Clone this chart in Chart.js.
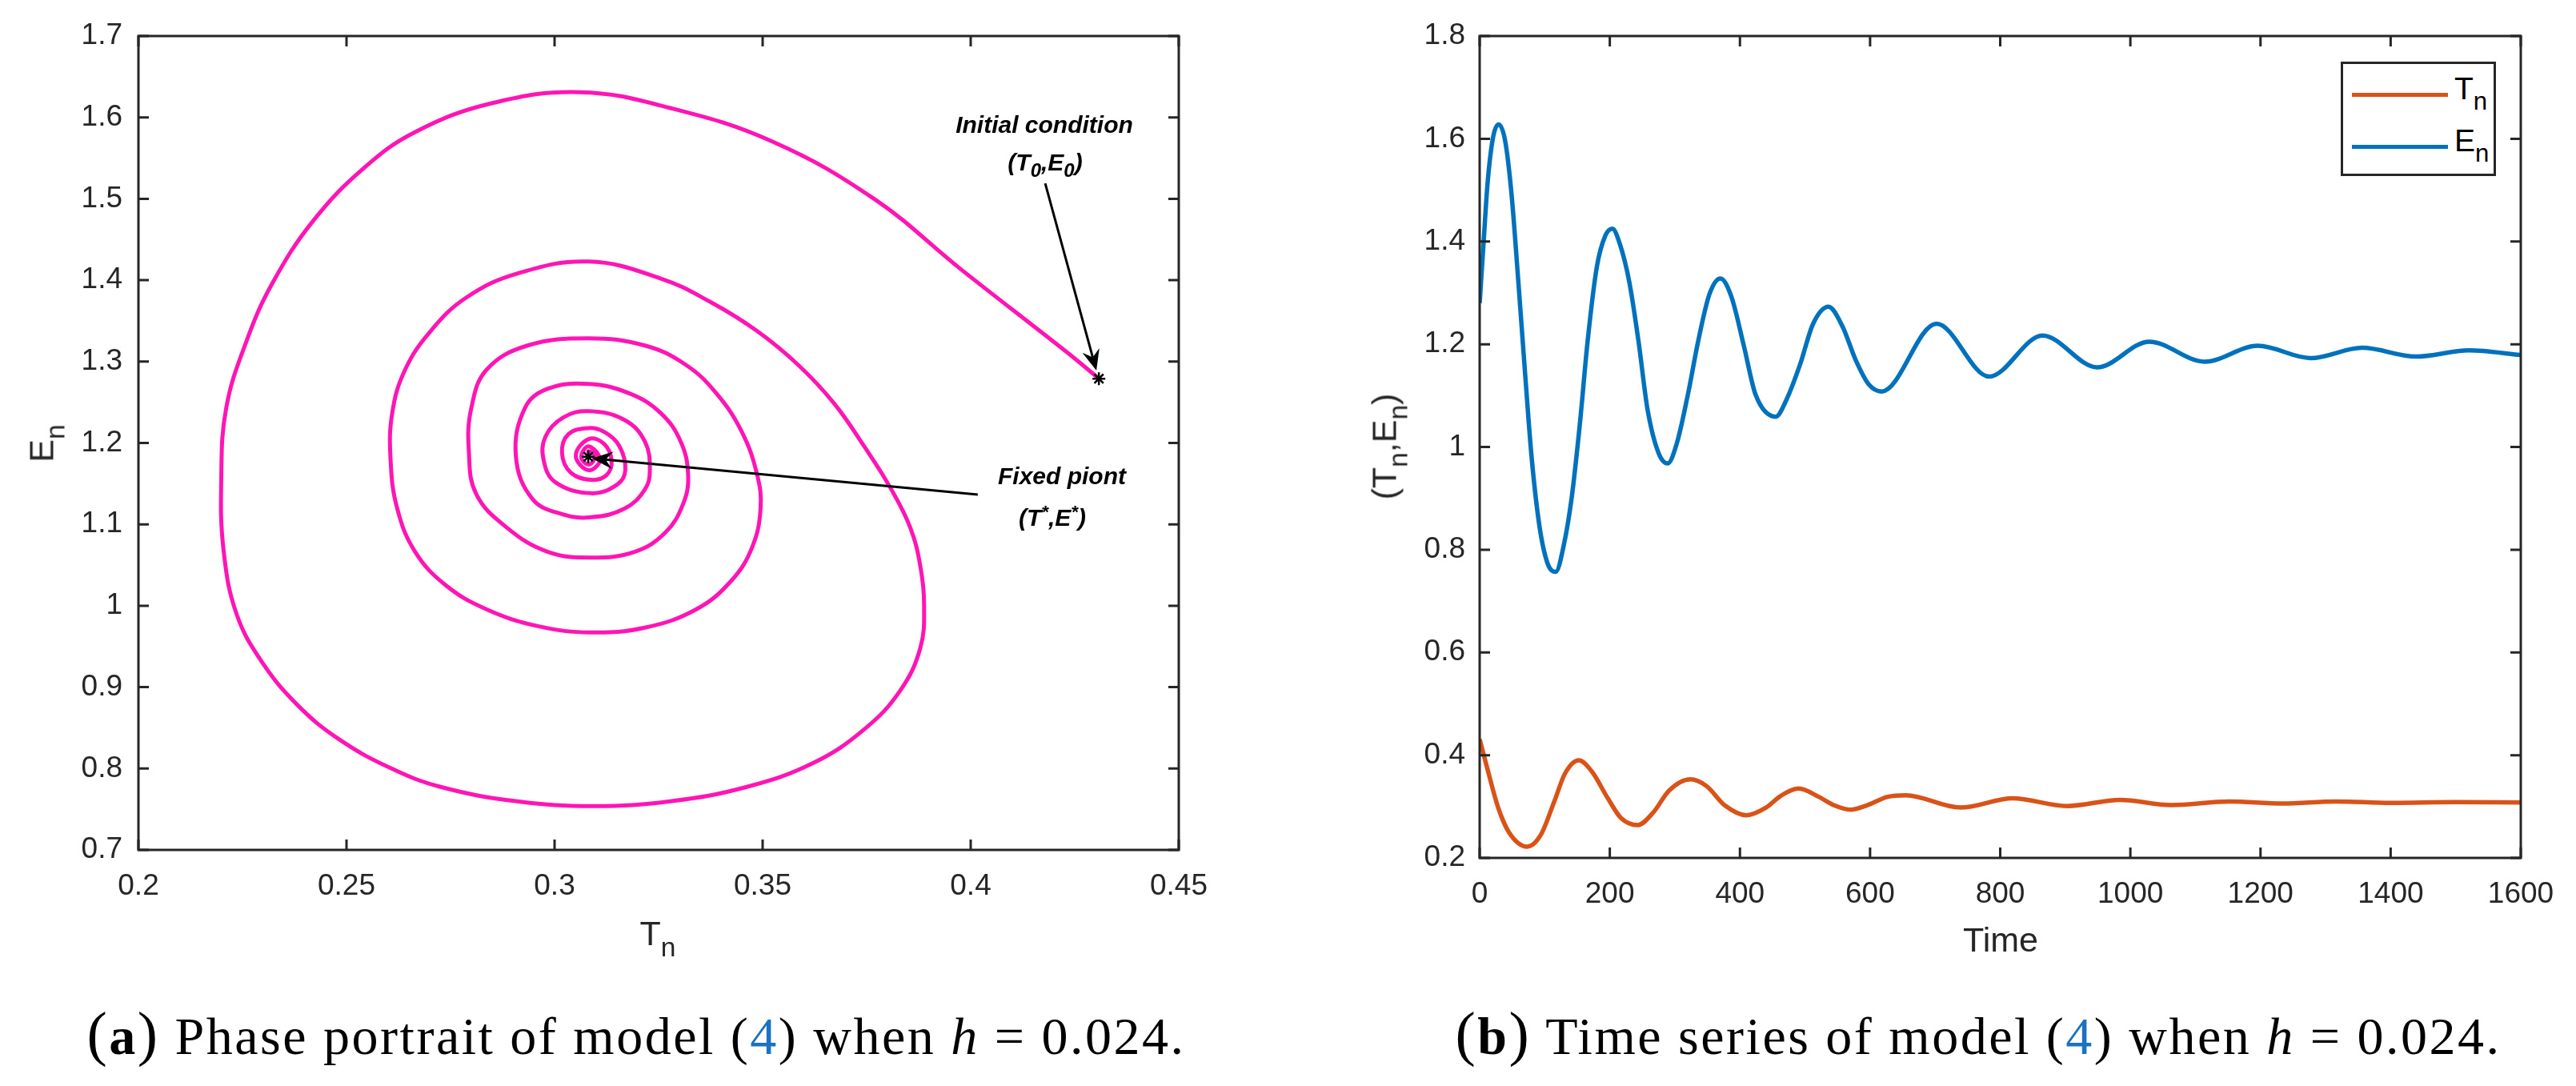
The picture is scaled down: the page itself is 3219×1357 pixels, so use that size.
<!DOCTYPE html>
<html lang="en">
<head>
<meta charset="UTF-8">
<title>Phase portrait and time series, h = 0.024</title>
<script src="https://cdn.jsdelivr.net/npm/chart.js@4"></script>
<style>
html,body{margin:0;background:#fff}
body{width:3219px;height:1357px;position:relative;overflow:hidden;font-family:"Liberation Sans",Arial,sans-serif;color:#262626}
canvas{position:absolute;top:0}
#c1{left:0}
#c2{left:1610px}
.lbl{position:absolute;font-size:43px;line-height:1;white-space:nowrap;color:#262626}
.lbl sub{font-size:0.78em;vertical-align:-0.42em;line-height:0}
.rot{transform:translate(-50%,-50%) rotate(-90deg)}
.ctr{transform:translate(-50%,0)}
.note{position:absolute;font-weight:bold;font-style:italic;font-size:30px;line-height:1;white-space:nowrap;color:#000;transform:translate(-50%,-50%)}
.note sub{font-size:0.8em;vertical-align:-0.35em;line-height:0}
.note sup{font-size:0.75em;vertical-align:0.45em;line-height:0}
.legend{position:absolute;left:2925px;top:77px;width:194px;height:143px;border:3px solid #262626;background:#fff;box-sizing:border-box}
.legend .row{position:absolute;left:8px;height:40px;width:180px}
.legend .sw{position:absolute;left:3px;top:16px;width:120px;height:5px}
.legend .tx{position:absolute;left:131px;top:-9px;font-size:39px;line-height:1;color:#000}
.legend .tx sub{font-size:0.8em;vertical-align:-0.42em;line-height:0}
.cap{position:absolute;top:1254px;font-family:"Liberation Serif","DejaVu Serif",serif;font-size:66px;letter-spacing:2.5px;line-height:1;white-space:nowrap;color:#000;transform:translate(-50%,0)}
.cap .par{font-size:1.15em}
.cap .ref{color:#1b72c2}
</style>
</head>
<body>
<canvas id="c1" width="1610" height="1240" style="width:1610px;height:1240px"></canvas>
<canvas id="c2" width="1609" height="1240" style="width:1609px;height:1240px"></canvas>

<div class="lbl ctr" style="left:822px;top:1145px">T<sub>n</sub></div>
<div class="lbl rot" style="left:52px;top:554px">E<sub>n</sub></div>
<div class="lbl ctr" style="left:2500px;top:1153px">Time</div>
<div class="lbl rot" style="left:1730px;top:558px">(T<sub>n</sub>,E<sub>n</sub>)</div>

<div class="note" style="left:1305px;top:156px">Initial condition</div>
<div class="note" style="left:1306px;top:203px">(T<sub>0</sub>,E<sub>0</sub>)</div>
<div class="note" style="left:1327px;top:595px">Fixed piont</div>
<div class="note" style="left:1315px;top:647px">(T<sup>*</sup>,E<sup>*</sup>)</div>

<div class="legend">
  <div class="row" style="top:20px"><div class="sw" style="background:#D95319"></div><div class="tx">T<sub>n</sub></div></div>
  <div class="row" style="top:85px"><div class="sw" style="background:#0072BD"></div><div class="tx">E<sub>n</sub></div></div>
</div>

<div class="cap" style="left:795px"><span class="par">(</span><b>a</b><span class="par">)</span> Phase portrait of model (<span class="ref">4</span>) when <i>h</i> = 0.024.</div>
<div class="cap" style="left:2472px"><span class="par">(</span><b>b</b><span class="par">)</span> Time series of model (<span class="ref">4</span>) when <i>h</i> = 0.024.</div>

<script>
// ---- phase portrait (T_n, E_n), read along the spiral from the initial point ----
const phaseT=[0.4306,0.4231,0.3975,0.3769,0.3524,0.3278,0.3062,0.2849,0.2665,0.2542,0.242,0.2322,0.226,0.2211,0.2199,0.2205,0.2236,0.2297,
  0.2383,0.2481,0.2604,0.2726,0.291,0.3094,0.3278,0.3462,0.3622,0.3744,0.383,0.3879,0.3888,0.3879,0.3855,0.3806,0.3744,0.3671,0.3585,0.3487,
  0.3376,0.3254,0.3082,
  0.291,0.2788,0.2702,0.2641,0.261,0.2606,0.2622,0.2665,0.2739,0.2837,0.296,0.3088,0.3217,0.334,0.3425,0.3475,0.3495,0.3487,0.345,0.3389,
  0.3315,0.3217,0.3082,
  0.2935,0.2837,0.28,0.2794,0.2812,0.2886,0.2984,0.3088,0.3192,0.3266,0.3309,0.3321,0.3303,0.3254,0.318,0.3082,
  0.2984,0.2929,0.2907,0.2947,0.3021,0.3088,0.3168,0.3217,0.3229,0.3217,0.3168,0.3082,
  0.3021,0.2978,0.2974,0.3002,0.3088,0.315,0.317,0.3156,0.3119,0.3082,
  0.3033,0.3018,0.3039,0.3088,0.3125,0.3137,0.3119,0.3082,
  0.3051,0.3082,0.3109,0.3082,0.3064,0.3082,0.3097,0.3082,0.3082];
const phaseE=[1.28,1.3116,1.414,1.4995,1.5702,1.6115,1.631,1.6174,1.582,1.5378,1.473,1.3964,1.3256,1.2431,1.1547,1.0662,0.9896,0.9307,
  0.8776,0.8363,0.801,0.7774,0.7597,0.7538,0.7597,0.7774,0.8069,0.8481,0.8953,0.9483,1.0014,1.0485,1.0957,1.1458,1.1959,1.249,1.2961,1.3374,
  1.3728,1.4023,1.4229,
  1.4081,1.3787,1.3374,1.2902,1.2372,1.1783,1.1193,1.0662,1.025,0.9955,0.9749,0.9672,0.9731,0.9955,1.0309,1.0721,1.1193,1.1605,1.2136,1.2608,
  1.2961,1.3197,1.3286,
  1.3197,1.2902,1.2431,1.19,1.137,1.0957,1.0662,1.0592,1.0662,1.0898,1.1252,1.1605,1.2018,1.2372,1.2608,1.2725,
  1.2667,1.2431,1.1841,1.1311,1.1122,1.1087,1.1193,1.1429,1.1665,1.2018,1.2283,1.239,
  1.2313,1.2077,1.1782,1.1517,1.1382,1.1488,1.1665,1.1959,1.2136,1.2183,
  1.2107,1.1871,1.1635,1.1547,1.1606,1.1783,1.1989,1.2048,
  1.1842,1.1665,1.1794,1.1959,1.183,1.1735,1.183,1.19,1.183];
const markT=[0.4308,0.3081];
const markE=[1.279,1.1831];
// arrows: [fromT, fromE, toT, toE]
const arrowInit=[0.4179,1.519,0.4302,1.289];
const arrowFixed=[0.4017,1.1366,0.3090,1.1811];

// ---- time series ----
const timeE=[0,6,12,20.5,29,39,49,59.5,70,80,92,104.5,117,129,141.5,154,166,180,193,204,215,230,244,258,275,289,303,320,336,353,370,387,406,424,455,471.5,492,512.5,536,557.5,578,598.5,618,702,783,865,949,1029,1114,1196,1277,1356,1439,1520,1600];
const valE=[1.28,1.397,1.511,1.602,1.628,1.597,1.492,1.321,1.14,0.978,0.845,0.773,0.757,0.807,0.902,1.045,1.207,1.35,1.411,1.425,1.397,1.321,1.207,1.073,0.988,0.968,1.007,1.102,1.207,1.297,1.328,1.292,1.197,1.102,1.059,1.092,1.159,1.24,1.273,1.235,1.169,1.121,1.108,1.24,1.137,1.217,1.155,1.205,1.166,1.197,1.173,1.193,1.176,1.188,1.179];
const timeT=[0,12,28.7,45,73,94,115,131,152.5,172,197,217,243,266.5,291,324,348.5,377,410,439,463,490,521,545.5,570,594.5,627,655,739,819,903,984,1063,1152,1234,1316,1400,1500,1600];
const valT=[0.431,0.373,0.297,0.25,0.222,0.245,0.311,0.364,0.39,0.369,0.316,0.278,0.264,0.288,0.331,0.353,0.34,0.302,0.283,0.297,0.321,0.335,0.319,0.302,0.294,0.302,0.319,0.322,0.298,0.316,0.301,0.313,0.303,0.31,0.306,0.31,0.307,0.3085,0.308];

const AXIS="#262626", TICK_LEN=13;
const tickFont={family:"Liberation Sans",size:37};

const framePlugin={
  id:"frame",
  afterDraw(chart){
    const {ctx,chartArea:a,scales}=chart;
    ctx.save();
    ctx.strokeStyle=AXIS;ctx.lineWidth=3;
    ctx.strokeRect(a.left,a.top,a.right-a.left,a.bottom-a.top);
    ctx.beginPath();
    scales.x.ticks.forEach(t=>{
      const p=scales.x.getPixelForValue(t.value);
      ctx.moveTo(p,a.bottom);ctx.lineTo(p,a.bottom-TICK_LEN);
      ctx.moveTo(p,a.top);ctx.lineTo(p,a.top+TICK_LEN);
    });
    scales.y.ticks.forEach(t=>{
      const p=scales.y.getPixelForValue(t.value);
      ctx.moveTo(a.left,p);ctx.lineTo(a.left+TICK_LEN,p);
      ctx.moveTo(a.right,p);ctx.lineTo(a.right-TICK_LEN,p);
    });
    ctx.stroke();
    (chart.options.plugins.frame.arrows||[]).forEach(ar=>drawArrow(ctx,scales,ar));
    ctx.restore();
  }
};

function drawArrow(ctx,s,ar){
  const x0=s.x.getPixelForValue(ar[0]),y0=s.y.getPixelForValue(ar[1]);
  const x1=s.x.getPixelForValue(ar[2]),y1=s.y.getPixelForValue(ar[3]);
  const ang=Math.atan2(y1-y0,x1-x0),L=26,W=11,B=17;
  const ux=Math.cos(ang),uy=Math.sin(ang),nx=-uy,ny=ux;
  ctx.strokeStyle="#000";ctx.fillStyle="#000";ctx.lineWidth=3;
  ctx.beginPath();ctx.moveTo(x0,y0);ctx.lineTo(x1-ux*B,y1-uy*B);ctx.stroke();
  ctx.beginPath();
  ctx.moveTo(x1,y1);
  ctx.lineTo(x1-ux*L+nx*W,y1-uy*L+ny*W);
  ctx.lineTo(x1-ux*B,y1-uy*B);
  ctx.lineTo(x1-ux*L-nx*W,y1-uy*L-ny*W);
  ctx.closePath();ctx.fill();
}

function fmt(d){return v=>String(Math.round(v*Math.pow(10,d))/Math.pow(10,d));}

function axisOpts(min,max,step,dec,pad,fitW,fitH,isX){
  return {
    type:"linear",min,max,
    ticks:{stepSize:step,font:tickFont,color:AXIS,padding:pad,callback:fmt(dec),maxRotation:0,autoSkip:false},
    grid:{display:false,drawTicks:false},
    border:{display:false},
    afterFit(sc){ if(isX) sc.height=fitH; else sc.width=fitW; }
  };
}

Chart.defaults.animation=false;

new Chart(document.getElementById("c1"),{
  type:"scatter",
  data:{datasets:[
    {data:markT.map((t,i)=>({x:t,y:markE[i]})),pointStyle:"star",pointRadius:8,borderColor:"#000",borderWidth:2.5,showLine:false},
    {data:phaseT.map((t,i)=>({x:t,y:phaseE[i]})),showLine:true,borderColor:"#FF14B4",borderWidth:5,pointRadius:0,tension:0.4,fill:false}
  ]},
  options:{
    responsive:false,maintainAspectRatio:false,devicePixelRatio:1,
    layout:{padding:{left:0,top:45,right:137,bottom:0}},
    scales:{
      x:axisOpts(0.2,0.45,0.05,2,24,0,178,true),
      y:axisOpts(0.7,1.7,0.1,1,20,173,0,false)
    },
    plugins:{legend:{display:false},tooltip:{enabled:false},frame:{arrows:[arrowInit,arrowFixed]}}
  },
  plugins:[framePlugin]
});

new Chart(document.getElementById("c2"),{
  type:"line",
  data:{datasets:[
    {label:"T_n",data:timeT.map((t,i)=>({x:t,y:valT[i]})),borderColor:"#D95319",borderWidth:5.5,pointRadius:0,cubicInterpolationMode:"monotone",fill:false},
    {label:"E_n",data:timeE.map((t,i)=>({x:t,y:valE[i]})),borderColor:"#0072BD",borderWidth:5.5,pointRadius:0,cubicInterpolationMode:"monotone",fill:false}
  ]},
  options:{
    responsive:false,maintainAspectRatio:false,devicePixelRatio:1,
    layout:{padding:{left:0,top:45,right:69,bottom:0}},
    scales:{
      x:axisOpts(0,1600,200,0,24,0,168,true),
      y:axisOpts(0.2,1.8,0.2,1,18,239,0,false)
    },
    plugins:{legend:{display:false},tooltip:{enabled:false},frame:{arrows:[]}}
  },
  plugins:[framePlugin]
});
</script>
</body>
</html>
